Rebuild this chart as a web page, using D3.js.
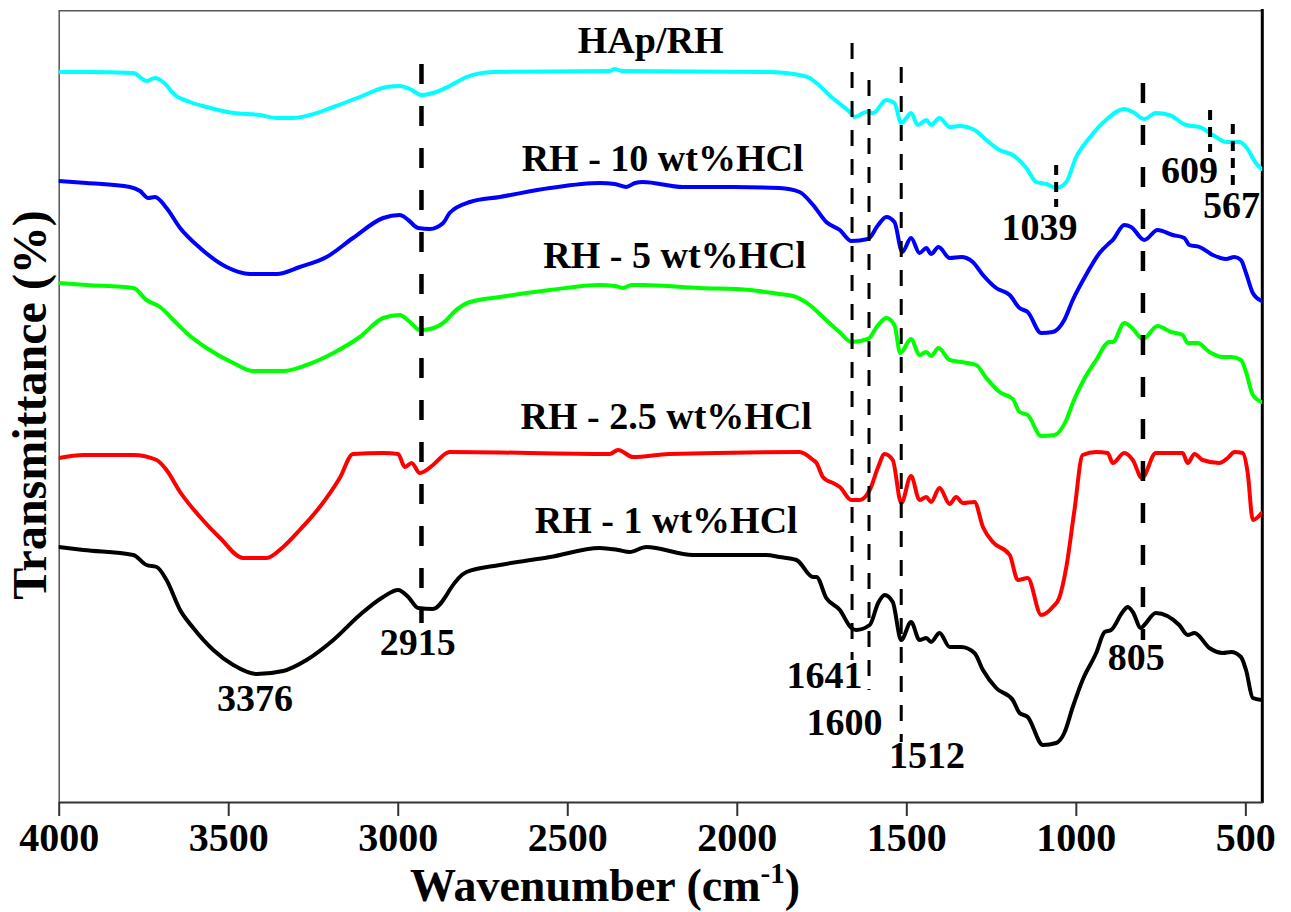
<!DOCTYPE html>
<html>
<head>
<meta charset="utf-8">
<script src="https://cdn.jsdelivr.net/npm/d3@7"></script>
<style>
  html, body { margin: 0; padding: 0; background: #fff; }
  svg { display: block; }
  text { font-family: "Liberation Serif", "Times New Roman", serif; font-weight: bold; fill: #000; }
</style>
</head>
<body>
<svg id="chart" width="1291" height="912"></svg>
<script>
// ---------- DATA (wavenumber in cm^-1, transmittance in offset arbitrary units) ----------
const seriesNames = ["HAp/RH", "RH - 10 wt%HCl", "RH - 5 wt%HCl", "RH - 2.5 wt%HCl", "RH - 1 wt%HCl"];

const hapRH = [
  [4000,73.0],[3918,73.0],[3780,72.9],[3741,72.1],[3716,72.4],[3692,72.0],[3657,70.7],[3613,70.0],
  [3564,69.5],[3485,68.9],[3407,68.7],[3357,68.4],[3308,68.4],[3259,68.7],[3190,69.5],[3112,70.5],
  [3033,71.5],[2994,71.6],[2964,71.3],[2930,70.7],[2896,70.9],[2847,71.6],[2797,72.5],[2719,73.0],
  [2375,73.1],[2360,73.3],[2340,73.1],[1913,73.0],[1854,72.9],[1815,72.7],[1785,72.4],[1765,71.9],
  [1721,70.5],[1667,69.0],[1652,68.5],[1618,69.0],[1598,68.9],[1559,70.2],[1535,69.9],[1515,67.9],
  [1500,68.4],[1486,68.9],[1466,67.7],[1441,68.2],[1427,67.7],[1402,68.4],[1372,67.5],[1343,67.6],
  [1299,67.2],[1264,66.2],[1225,65.2],[1186,64.7],[1146,63.4],[1117,62.0],[1087,61.8],[1058,61.4],
  [1028,62.0],[999,64.5],[960,66.4],[911,68.2],[857,69.3],[832,69.0],[798,68.3],[764,68.9],
  [724,68.7],[675,67.7],[635,67.5],[596,66.7],[557,66.0],[517,66.0],[498,65.5],[469,63.9],[452,63.3]
];

const rh10 = [
  [4000,62.1],[3918,61.9],[3790,61.5],[3760,61.1],[3736,60.4],[3716,60.5],[3682,59.4],[3642,57.4],
  [3583,55.4],[3505,53.5],[3436,52.8],[3357,52.8],[3289,53.5],[3210,54.5],[3132,56.4],[3043,58.4],
  [2994,58.7],[2969,58.2],[2940,57.4],[2905,57.3],[2866,57.9],[2847,58.9],[2787,60.0],[2699,60.5],
  [2551,61.4],[2404,61.9],[2360,61.8],[2326,61.5],[2300,61.9],[2277,62.0],[2159,61.5],[2011,61.5],
  [1874,61.4],[1815,61.0],[1775,59.7],[1736,58.0],[1696,57.2],[1662,56.1],[1613,56.3],[1583,57.7],
  [1559,58.5],[1535,58.0],[1512,55.0],[1486,56.4],[1461,54.9],[1441,55.4],[1427,54.8],[1405,55.5],
  [1372,54.4],[1338,54.5],[1304,54.0],[1274,52.7],[1235,51.4],[1195,50.7],[1166,49.4],[1142,49.0],
  [1102,46.9],[1068,47.0],[1034,48.2],[1009,50.2],[970,52.7],[930,54.9],[901,55.9],[891,56.2],
  [857,57.7],[837,57.5],[798,56.2],[759,57.2],[714,56.7],[680,56.4],[665,55.7],[635,55.5],
  [596,54.7],[557,54.3],[532,54.5],[513,54.2],[498,52.9],[478,50.9],[452,50.1]
];

const rh5 = [
  [4000,51.9],[3918,51.7],[3780,51.4],[3741,50.2],[3701,49.5],[3662,48.2],[3623,46.9],[3564,45.4],
  [3485,43.9],[3426,43.1],[3338,43.1],[3269,43.7],[3190,44.9],[3112,46.5],[3043,48.4],[2994,48.7],
  [2964,48.0],[2935,47.2],[2905,47.3],[2856,48.2],[2837,48.9],[2787,50.0],[2699,50.5],[2551,51.2],
  [2404,51.7],[2360,51.6],[2336,51.4],[2310,51.7],[2277,51.7],[2110,51.4],[1962,51.2],[1874,50.8],
  [1834,50.6],[1785,49.7],[1746,48.5],[1697,47.0],[1662,46.0],[1613,46.3],[1583,47.7],[1559,48.4],
  [1535,47.7],[1518,44.9],[1486,46.3],[1461,44.7],[1441,45.0],[1427,44.6],[1405,45.4],[1372,44.2],
  [1338,44.0],[1294,43.7],[1264,42.4],[1225,41.0],[1186,40.3],[1166,39.0],[1142,38.7],[1102,36.6],
  [1063,36.7],[1028,38.2],[1009,39.9],[980,42.0],[940,44.2],[901,46.0],[891,46.0],[857,47.9],
  [837,47.5],[802,46.3],[759,47.6],[719,47.0],[685,46.7],[670,45.9],[641,45.9],[606,45.0],
  [567,44.5],[542,44.5],[513,44.2],[498,43.0],[478,40.7],[452,40.0]
];

const rh25 = [
  [4000,34.4],[3927,34.7],[3780,34.7],[3711,34.2],[3682,33.2],[3642,31.0],[3583,28.5],[3524,26.4],
  [3456,24.4],[3387,24.4],[3338,25.5],[3289,27.2],[3230,29.5],[3171,32.4],[3132,34.8],[3043,34.9],
  [2999,34.8],[2979,33.5],[2959,33.9],[2935,32.9],[2896,33.7],[2856,34.9],[2847,35.0],[2375,34.8],
  [2350,35.2],[2306,34.5],[2200,34.8],[1815,35.0],[1775,34.2],[1765,33.9],[1746,32.5],[1736,32.2],
  [1716,31.9],[1696,31.5],[1662,30.2],[1637,30.2],[1608,31.2],[1583,33.5],[1564,34.8],[1540,34.2],
  [1515,29.9],[1486,32.6],[1461,30.2],[1441,30.5],[1427,30.0],[1402,31.4],[1372,29.8],[1353,30.5],
  [1333,29.9],[1299,30.0],[1274,27.5],[1245,26.0],[1195,24.7],[1171,22.2],[1142,22.4],[1102,18.7],
  [1068,19.5],[1049,20.4],[1028,23.5],[1004,29.2],[980,34.7],[940,35.0],[906,34.9],[891,33.9],
  [857,34.9],[832,34.2],[805,32.4],[764,34.9],[685,34.9],[670,33.9],[650,34.8],[626,34.2],
  [577,33.9],[552,34.4],[532,35.0],[508,34.9],[493,32.9],[478,28.2],[452,28.9]
];

const rh1 = [
  [4000,25.5],[3927,25.2],[3780,24.7],[3741,23.7],[3711,23.5],[3682,22.2],[3642,19.2],[3603,17.4],
  [3544,15.2],[3485,13.7],[3416,12.8],[3338,13.1],[3269,14.2],[3190,16.2],[3112,18.7],[3043,20.5],
  [2999,21.2],[2969,20.5],[2940,19.4],[2896,19.3],[2856,20.7],[2847,21.2],[2797,23.0],[2699,23.7],
  [2551,24.5],[2404,25.4],[2350,25.2],[2316,25.0],[2267,25.5],[2129,24.7],[1913,24.7],[1874,24.5],
  [1824,24.2],[1775,22.5],[1765,22.5],[1736,20.4],[1696,19.2],[1662,17.4],[1648,17.2],[1608,17.7],
  [1583,19.9],[1564,20.7],[1540,20.0],[1515,16.2],[1486,18.0],[1461,16.2],[1441,16.4],[1427,16.0],
  [1402,16.9],[1372,15.5],[1338,15.5],[1299,14.9],[1274,13.2],[1235,11.4],[1186,10.2],[1166,8.9],
  [1142,8.5],[1097,5.7],[1058,5.9],[1034,6.9],[1009,9.5],[980,12.2],[940,14.9],[915,17.0],
  [896,17.2],[862,19.0],[847,19.5],[832,19.0],[808,17.4],[798,17.7],[764,18.9],[695,17.7],
  [670,16.7],[650,16.9],[606,15.4],[567,14.9],[542,15.0],[513,14.5],[498,13.2],[478,10.4],[452,10.2]
];

const seriesData = [hapRH, rh10, rh5, rh25, rh1];

// series label anchors [wavenumber, value]
const seriesLabelAt = [[2254,74.9],[2219,63.1],[2183,53.4],[2208,37.3],[2208,26.9]];

// peak markers: drawn wavenumber, top value, bottom value
const markerWn     = [2930, 1660, 1610, 1515, 1058, 802, 604, 537];
const markerTop    = [73.8, 75.9, 72.2, 73.5, 63.7, 71.9, 69.2, 67.8];
const markerBottom = [17.9, 14.2, 11.2,  6.0, 59.5, 16.2, 65.0, 61.2];
const markerKind   = ["thick","thin","thin","thin","short","thick","short","short"];

// peak labels
const peakLabels = ["3376","2915","1641","1600","1512","805","1039","609","567"];
const peakLabelAt = [[3421,9.1],[2941,14.7],[1741,11.4],[1682,6.7],[1439,3.4],[822,13.2],[1107,56.2],[665,61.9],[541,58.4]];

const xTicks = [4000, 3500, 3000, 2500, 2000, 1500, 1000, 500];

// ---------- LAYOUT / STYLE ----------
const colors = ["#00ffff", "#0000ff", "#00ff00", "#ff0000", "#000000"];
const L = 58.7, R = 1262.3, T = 10.7, B = 802;
const markerStyle = {
  thick: {w: 4.5, dash: "20,22"},
  thin:  {w: 3,   dash: "16,13"},
  short: {w: 4,   dash: "10,7"}
};

const svg = d3.select("#chart");
const x = d3.scaleLinear().domain([4000, 450]).range([L, R]);
const y = d3.scaleLinear().domain([0, 79.2]).range([B, B - 792]);

svg.append("defs").append("clipPath").attr("id", "clip")
  .append("rect").attr("x", L).attr("y", T).attr("width", R - L).attr("height", B - T);

// frame: top & left thin grey, right thick black
svg.append("line").attr("x1", L).attr("x2", R).attr("y1", T).attr("y2", T)
  .attr("stroke", "#555").attr("stroke-width", 1.5);
svg.append("g").attr("transform", `translate(${L},0)`)
  .call(d3.axisLeft(y).tickValues([]).tickSizeOuter(0))
  .call(g => g.select(".domain").attr("stroke", "#555").attr("stroke-width", 1.5));
svg.append("line").attr("x1", R).attr("x2", R).attr("y1", 9).attr("y2", B + 1)
  .attr("stroke", "#000").attr("stroke-width", 3);

// curves
const line = d3.line().x(d => x(d[0])).y(d => y(d[1])).curve(d3.curveMonotoneX);
const gCurves = svg.append("g").attr("clip-path", "url(#clip)");
seriesData.forEach((s, i) => {
  gCurves.append("path").datum(s)
    .attr("d", line)
    .attr("fill", "none")
    .attr("stroke", colors[i])
    .attr("stroke-width", 4)
    .attr("stroke-linejoin", "round")
    .attr("stroke-linecap", "round");
});

// dashed marker lines
markerWn.forEach((w, i) => {
  const st = markerStyle[markerKind[i]];
  svg.append("line")
    .attr("x1", x(w)).attr("x2", x(w))
    .attr("y1", y(markerTop[i])).attr("y2", y(markerBottom[i]))
    .attr("stroke", "#000").attr("stroke-width", st.w)
    .attr("stroke-dasharray", st.dash);
});

// bottom axis
svg.append("g").attr("transform", `translate(0,${B})`)
  .call(d3.axisBottom(x).tickValues(xTicks).tickFormat(d3.format("d")).tickSize(14).tickSizeOuter(0).tickPadding(6.6))
  .call(g => {
    g.select(".domain").attr("stroke", "#333").attr("stroke-width", 2);
    g.selectAll(".tick line").attr("stroke", "#333").attr("stroke-width", 2);
    g.selectAll(".tick text")
      .attr("fill", "#000")
      .style("font-family", '"Liberation Serif", "Times New Roman", serif')
      .style("font-weight", "bold")
      .style("font-size", "40px");
  });

// series labels
seriesNames.forEach((n, i) => {
  svg.append("text")
    .attr("x", x(seriesLabelAt[i][0])).attr("y", y(seriesLabelAt[i][1]))
    .attr("text-anchor", "middle")
    .style("font-size", "38px")
    .text(n);
});

// peak labels
peakLabels.forEach((t, i) => {
  svg.append("text")
    .attr("x", x(peakLabelAt[i][0])).attr("y", y(peakLabelAt[i][1]))
    .attr("text-anchor", "middle")
    .style("font-size", "38px")
    .text(t);
});

// axis titles
const xt = svg.append("text")
  .attr("x", 605).attr("y", 901)
  .attr("text-anchor", "middle")
  .style("font-size", "46px");
xt.append("tspan").text("Wavenumber (cm");
xt.append("tspan").attr("dy", -18).style("font-size", "29px").text("-1");
xt.append("tspan").attr("dy", 18).text(")");

svg.append("text")
  .attr("transform", "translate(46,405) rotate(-90)")
  .attr("text-anchor", "middle")
  .style("font-size", "48px")
  .text("Transmittance (%)");
</script>
</body>
</html>
